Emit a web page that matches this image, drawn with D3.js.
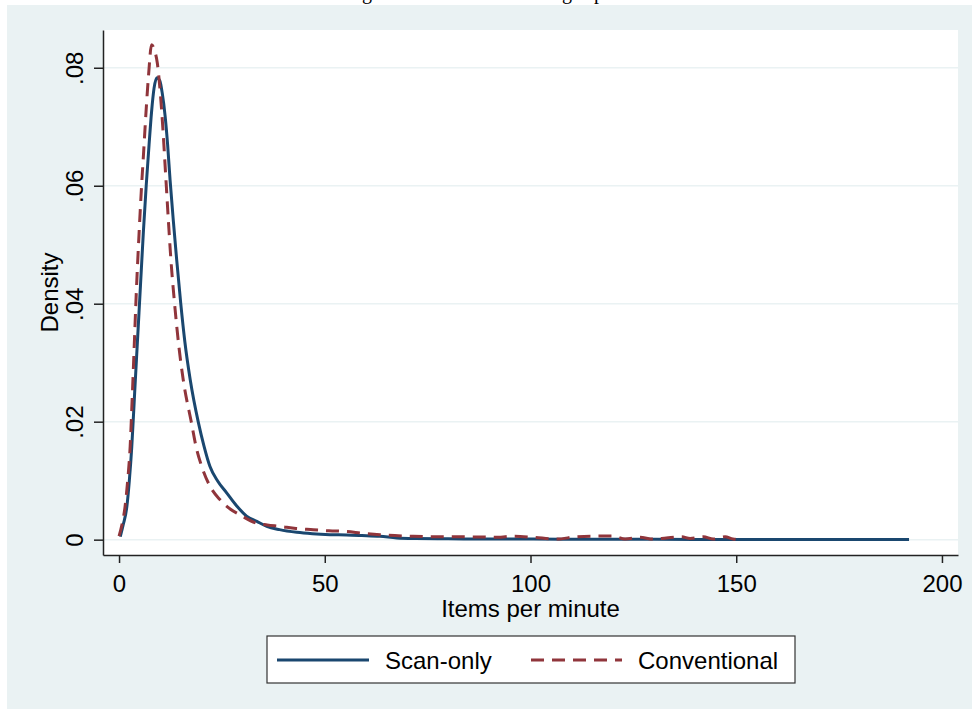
<!DOCTYPE html>
<html>
<head>
<meta charset="utf-8">
<script src="https://cdn.jsdelivr.net/npm/d3@7"></script>
<style>
  body { margin: 0; background: #fff; }
  text { font-family: 'Liberation Sans', Arial, sans-serif; fill: #000; }
</style>
</head>
<body>
<div id="chart"></div>
<script>
// Kernel density of items per minute
const scanX = [0.3, 1, 1.9, 2.5, 3.1, 3.8, 4.5, 5.2, 5.9, 6.6, 7.3, 7.9, 8.5, 9.2, 9.9, 10.5, 11.2,
  11.8, 12.4, 13.2, 14.0, 15.0, 16.0, 17.3, 19.3, 20.6, 22.1, 24, 26.2, 28.5, 31.0, 33.5, 35.9,
  39, 43.2, 47, 51.3, 55.3, 59, 63.4, 67.5, 72, 80, 90, 100, 110, 120, 130, 140, 150, 160, 170,
  180, 192];
const scanY = [0.0005, 0.0025, 0.0056, 0.010, 0.0158, 0.025, 0.034, 0.043, 0.052, 0.060, 0.067,
  0.0725, 0.0765, 0.0783, 0.0778, 0.0757, 0.0718, 0.067, 0.061, 0.054, 0.0475, 0.040, 0.0335,
  0.0271, 0.0198, 0.0160, 0.0124, 0.0099, 0.0079, 0.0058, 0.0040, 0.0031, 0.00226, 0.0017,
  0.00124, 0.0010, 0.00085, 0.0008, 0.0007, 0.00056, 0.0003, 0.0002, 0.00015, 0.0001, 0.0001,
  0.00008, 0.00006, 0.00005, 0.00004, 0.00003, 0.00002, 0.00002, 0.00001, 0.00001];

const convX = [0, 0.7, 1.46, 2.1, 2.7, 3.2, 3.7, 4.2, 4.8, 5.4, 6.0, 6.6, 7.2, 7.9, 8.6, 9.3, 10.4,
  11.4, 12.0, 12.6, 13.5, 14.5, 15.6, 17.6, 18.8, 20.1, 22, 24.5, 27, 29.4, 33.4, 36, 39.1, 43,
  47.2, 51, 55.3, 59, 63.4, 67, 71.5, 76, 81, 87.7, 92, 95.8, 100.7, 106.4, 111.2, 116.1, 120.1,
  123, 126.6, 129.8, 133, 136.7, 138.8, 142, 144.4, 147.3, 149.2, 151.7];
const convY = [0.0006, 0.0025, 0.0056, 0.010, 0.0158, 0.024, 0.033, 0.042, 0.051, 0.059, 0.066,
  0.073, 0.079, 0.0839, 0.0830, 0.0808, 0.0723, 0.061, 0.054, 0.0475, 0.040, 0.033, 0.0271, 0.0198,
  0.0155, 0.0124, 0.0092, 0.0068, 0.0052, 0.0042, 0.0028, 0.0025, 0.00226, 0.0019, 0.0017,
  0.0015, 0.0014, 0.0011, 0.00085, 0.0007, 0.00056, 0.0005, 0.0005, 0.00045, 0.0004, 0.0006,
  0.0004, 0.0001, 0.0005, 0.0006, 0.0006, 0.0001, 0.0004, 0.0001, 0.0003, 0.0005, 0.0002,
  0.0005, 0.0001, 0.0005, 0.0001, 0.0];

const xTicks = [0, 50, 100, 150, 200];
const yTicks = [0, 0.02, 0.04, 0.06, 0.08];
const seriesNames = ['Scan-only', 'Conventional'];

const width = 972;
const height = 709;
const plot = { left: 103, right: 958, top: 30, bottom: 555 };
const blue = '#1a476f';
const red = '#90353b';
const bg = '#eaf2f3';

const svg = d3
  .select('#chart')
  .append('svg')
  .attr('width', width)
  .attr('height', height);

// cut-off caption fragments above the graph
[['g', 362], ['g', 562], ['p', 594]].forEach(([t, x]) => {
  svg
    .append('text')
    .attr('x', x)
    .attr('y', -1.5)
    .style('font-family', "'Liberation Serif', serif")
    .style('font-size', '20px')
    .text(t);
});

// graph region and plot region
svg
  .append('rect')
  .attr('x', 7)
  .attr('y', 5)
  .attr('width', width - 7)
  .attr('height', height - 5)
  .attr('fill', bg);

svg
  .append('rect')
  .attr('x', plot.left)
  .attr('y', plot.top)
  .attr('width', plot.right - plot.left)
  .attr('height', plot.bottom - plot.top)
  .attr('fill', '#fff');

const xScale = d3
  .scaleLinear()
  .domain([-3.9, 203.9])
  .range([plot.left, plot.right]);

const yScale = d3
  .scaleLinear()
  .domain([-0.0026, 0.0864])
  .range([plot.bottom, plot.top]);

// gridlines
svg
  .selectAll('.grid')
  .data(yTicks)
  .enter()
  .append('line')
  .attr('class', 'grid')
  .attr('x1', plot.left)
  .attr('x2', plot.right)
  .attr('y1', d => yScale(d))
  .attr('y2', d => yScale(d))
  .attr('stroke', bg)
  .attr('stroke-width', 1.5);

const line = d3
  .line()
  .x(d => xScale(d[0]))
  .y(d => yScale(d[1]))
  .curve(d3.curveMonotoneX);

svg
  .append('path')
  .datum(scanX.map((x, i) => [x, scanY[i]]))
  .attr('d', line)
  .attr('fill', 'none')
  .attr('stroke', blue)
  .attr('stroke-width', 3);

svg
  .append('path')
  .datum(convX.map((x, i) => [x, convY[i]]))
  .attr('d', line)
  .attr('fill', 'none')
  .attr('stroke', red)
  .attr('stroke-width', 3)
  .attr('stroke-dasharray', '13,8');

// x axis
const xAxis = svg
  .append('g')
  .attr('transform', `translate(0,${plot.bottom})`)
  .call(d3.axisBottom(xScale).tickValues(xTicks).tickSize(8).tickSizeOuter(0));
xAxis.select('.domain').attr('stroke', '#222').attr('stroke-width', 1.5);
xAxis.selectAll('.tick line').attr('stroke', '#222').attr('stroke-width', 1.5);
xAxis
  .selectAll('.tick text')
  .attr('y', 37)
  .attr('dy', 0)
  .style('font-size', '24px')
  .style('fill', '#000');

// y axis, labels turned on their side
const yAxis = svg
  .append('g')
  .attr('transform', `translate(${plot.left},0)`)
  .call(
    d3
      .axisLeft(yScale)
      .tickValues(yTicks)
      .tickSize(9)
      .tickSizeOuter(0)
      .tickFormat(d => (d === 0 ? '0' : d3.format('.2f')(d).replace(/^0/, '')))
  );
yAxis.select('.domain').attr('stroke', '#222').attr('stroke-width', 1.5);
yAxis.selectAll('.tick line').attr('stroke', '#222').attr('stroke-width', 1.5);
yAxis
  .selectAll('.tick text')
  .attr('transform', 'rotate(-90)')
  .attr('x', 0)
  .attr('y', -20)
  .attr('dy', 0)
  .attr('text-anchor', 'middle')
  .style('font-size', '24px')
  .style('fill', '#000');

// axis titles
svg
  .append('text')
  .attr('x', (plot.left + plot.right) / 2)
  .attr('y', 617)
  .attr('text-anchor', 'middle')
  .style('font-size', '24px')
  .text('Items per minute');

svg
  .append('text')
  .attr('transform', `translate(58,${(plot.top + plot.bottom) / 2}) rotate(-90)`)
  .attr('text-anchor', 'middle')
  .style('font-size', '24px')
  .text('Density');

// legend
const legend = svg.append('g');
legend
  .append('rect')
  .attr('x', 267)
  .attr('y', 636)
  .attr('width', 528)
  .attr('height', 47)
  .attr('fill', '#fff')
  .attr('stroke', '#333')
  .attr('stroke-width', 1.2);

const legendItems = [
  { name: seriesNames[0], color: blue, dash: null, x0: 277, x1: 369, tx: 385 },
  { name: seriesNames[1], color: red, dash: '13,8', x0: 531, x1: 622, tx: 638 },
];
legendItems.forEach(item => {
  legend
    .append('line')
    .attr('x1', item.x0)
    .attr('x2', item.x1)
    .attr('y1', 660)
    .attr('y2', 660)
    .attr('stroke', item.color)
    .attr('stroke-width', 3)
    .attr('stroke-dasharray', item.dash);
  legend
    .append('text')
    .attr('x', item.tx)
    .attr('y', 668.5)
    .style('font-size', '24px')
    .text(item.name);
});
</script>
</body>
</html>
